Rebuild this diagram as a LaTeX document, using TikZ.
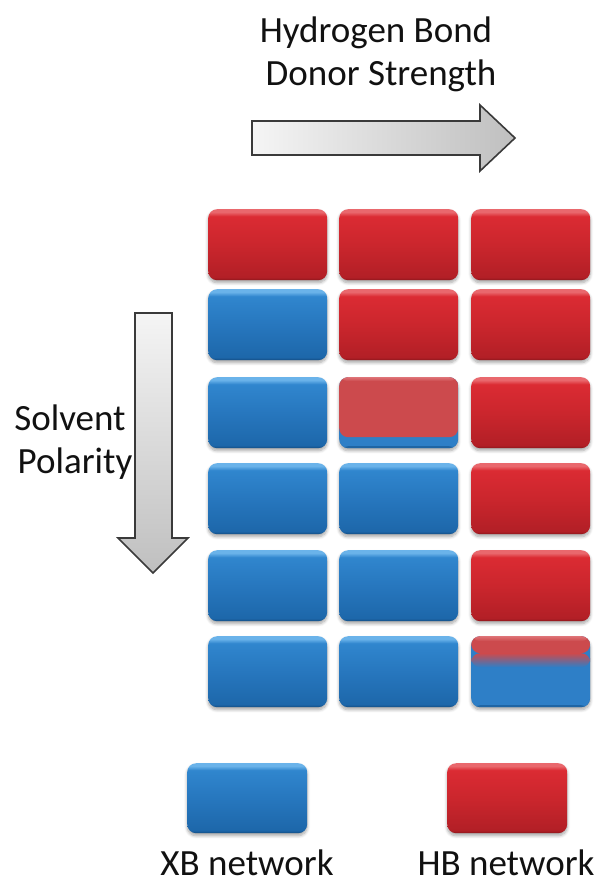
\documentclass[tikz,border=0pt]{standalone}
\usepackage{fontspec}
\setmainfont{Carlito}
\usetikzlibrary{shadows.blur,calc}
\definecolor{hbHi}{HTML}{E9686D}
\definecolor{hbTop}{HTML}{DB2B33}
\definecolor{hbMid}{HTML}{CB262D}
\definecolor{hbBot}{HTML}{B21F26}
\definecolor{hbEdge}{HTML}{8C161B}
\definecolor{xbHi}{HTML}{6AB3EA}
\definecolor{xbTop}{HTML}{3086CE}
\definecolor{xbMid}{HTML}{2777BE}
\definecolor{xbBot}{HTML}{1D67AA}
\definecolor{xbEdge}{HTML}{124C82}
\definecolor{mixRed}{HTML}{CC4A4D}
\definecolor{mixHi}{HTML}{DE7276}
\definecolor{mixBlue}{HTML}{2E7FC7}
\definecolor{txt}{HTML}{111111}
\definecolor{arrowline}{HTML}{3A3A3A}
\pgfdeclareverticalshading{redcell}{100bp}{color(0bp)=(hbEdge); color(25bp)=(hbEdge); color(27bp)=(hbBot); color(50bp)=(hbMid); color(70bp)=(hbTop); color(73bp)=(hbHi); color(75bp)=(hbHi); color(100bp)=(hbHi)}
\pgfdeclareverticalshading{bluecell}{100bp}{color(0bp)=(xbEdge); color(25bp)=(xbEdge); color(27bp)=(xbBot); color(50bp)=(xbMid); color(70bp)=(xbTop); color(73bp)=(xbHi); color(75bp)=(xbHi); color(100bp)=(xbHi)}
\tikzset{
  cell/.style={rounded corners=9pt, minimum width=119pt, minimum height=71pt, inner sep=0pt,
    anchor=north west,
    blur shadow={shadow xshift=0pt, shadow yshift=-2.5pt, shadow blur radius=3pt, shadow blur steps=6, shadow opacity=35}},
  hbcell/.style={cell, shading=redcell},
  xbcell/.style={cell, shading=bluecell},
  mixacell/.style={cell, fill=mixBlue, path picture={
      \fill[mixRed] (path picture bounding box.north west) rectangle ([yshift=11pt]path picture bounding box.south east);
      \shade[top color=mixHi, bottom color=mixRed] (path picture bounding box.north west) rectangle ([yshift=-4pt]path picture bounding box.north east);
      \fill[xbEdge,opacity=0.5] ([yshift=2pt]path picture bounding box.south west) rectangle (path picture bounding box.south east);
  }},
  mixbcell/.style={cell, fill=mixBlue, path picture={
      \fill[mixRed] (path picture bounding box.north west) rectangle ([yshift=-17pt]path picture bounding box.north east);
      \shade[top color=mixRed, bottom color=mixBlue] ([yshift=-17pt]path picture bounding box.north west) rectangle ([yshift=-31pt]path picture bounding box.north east);
      \shade[top color=mixHi, bottom color=mixRed] (path picture bounding box.north west) rectangle ([yshift=-5pt]path picture bounding box.north east);
      \fill[xbEdge,opacity=0.5] ([yshift=2pt]path picture bounding box.south west) rectangle (path picture bounding box.south east);
  }},
  lbl/.style={font=\fontsize{37}{44}\selectfont, text=txt, inner sep=0pt, anchor=base, text depth=0pt},
  bigarrow/.style={draw=arrowline, line width=1.6pt, line join=miter}
}
\begin{document}
\begin{tikzpicture}[x=1pt,y=-1pt]
\useasboundingbox (0,0) rectangle (601,881);
% titles
\node[lbl] (t1) at (376,42) {Hydrogen Bond};
\node[lbl] (t2) at (381,85) {Donor Strength};
\node[lbl] (s1) at (70,430) {Solvent};
\node[lbl] (s2) at (75,473) {Polarity};
% horizontal arrow
\path[bigarrow, left color=gray!8, right color=gray!50]
  (252,121) -- (480,121) -- (480,105) -- (515,138) -- (480,171) -- (480,155) -- (252,155) -- cycle;
% vertical arrow
\path[bigarrow, top color=gray!8, bottom color=gray!50]
  (135,313) -- (172,313) -- (172,538) -- (188,538) -- (153,573) -- (118,538) -- (135,538) -- cycle;
% grid
\node[hbcell] (c11) at (208,209) {};
\node[hbcell] (c12) at (339,209) {};
\node[hbcell] (c13) at (471,209) {};
\node[xbcell] (c21) at (208,289) {};
\node[hbcell] (c22) at (339,289) {};
\node[hbcell] (c23) at (471,289) {};
\node[xbcell] (c31) at (208,377) {};
\node[mixacell] (c32) at (339,377) {};
\node[hbcell] (c33) at (471,377) {};
\node[xbcell] (c41) at (208,463) {};
\node[xbcell] (c42) at (339,463) {};
\node[hbcell] (c43) at (471,463) {};
\node[xbcell] (c51) at (208,550) {};
\node[xbcell] (c52) at (339,550) {};
\node[hbcell] (c53) at (471,550) {};
\node[xbcell] (c61) at (208,636) {};
\node[xbcell] (c62) at (339,636) {};
\node[mixbcell] (c63) at (471,636) {};
% legend
\node[xbcell, minimum width=120pt, minimum height=70pt] (lx) at (187,763) {};
\node[hbcell, minimum width=120pt, minimum height=70pt] (lh) at (447,763) {};
\node[lbl] (lxt) at (247,875) {XB network};
\node[lbl] (lht) at (506,875) {HB network};
\end{tikzpicture}
\end{document}
